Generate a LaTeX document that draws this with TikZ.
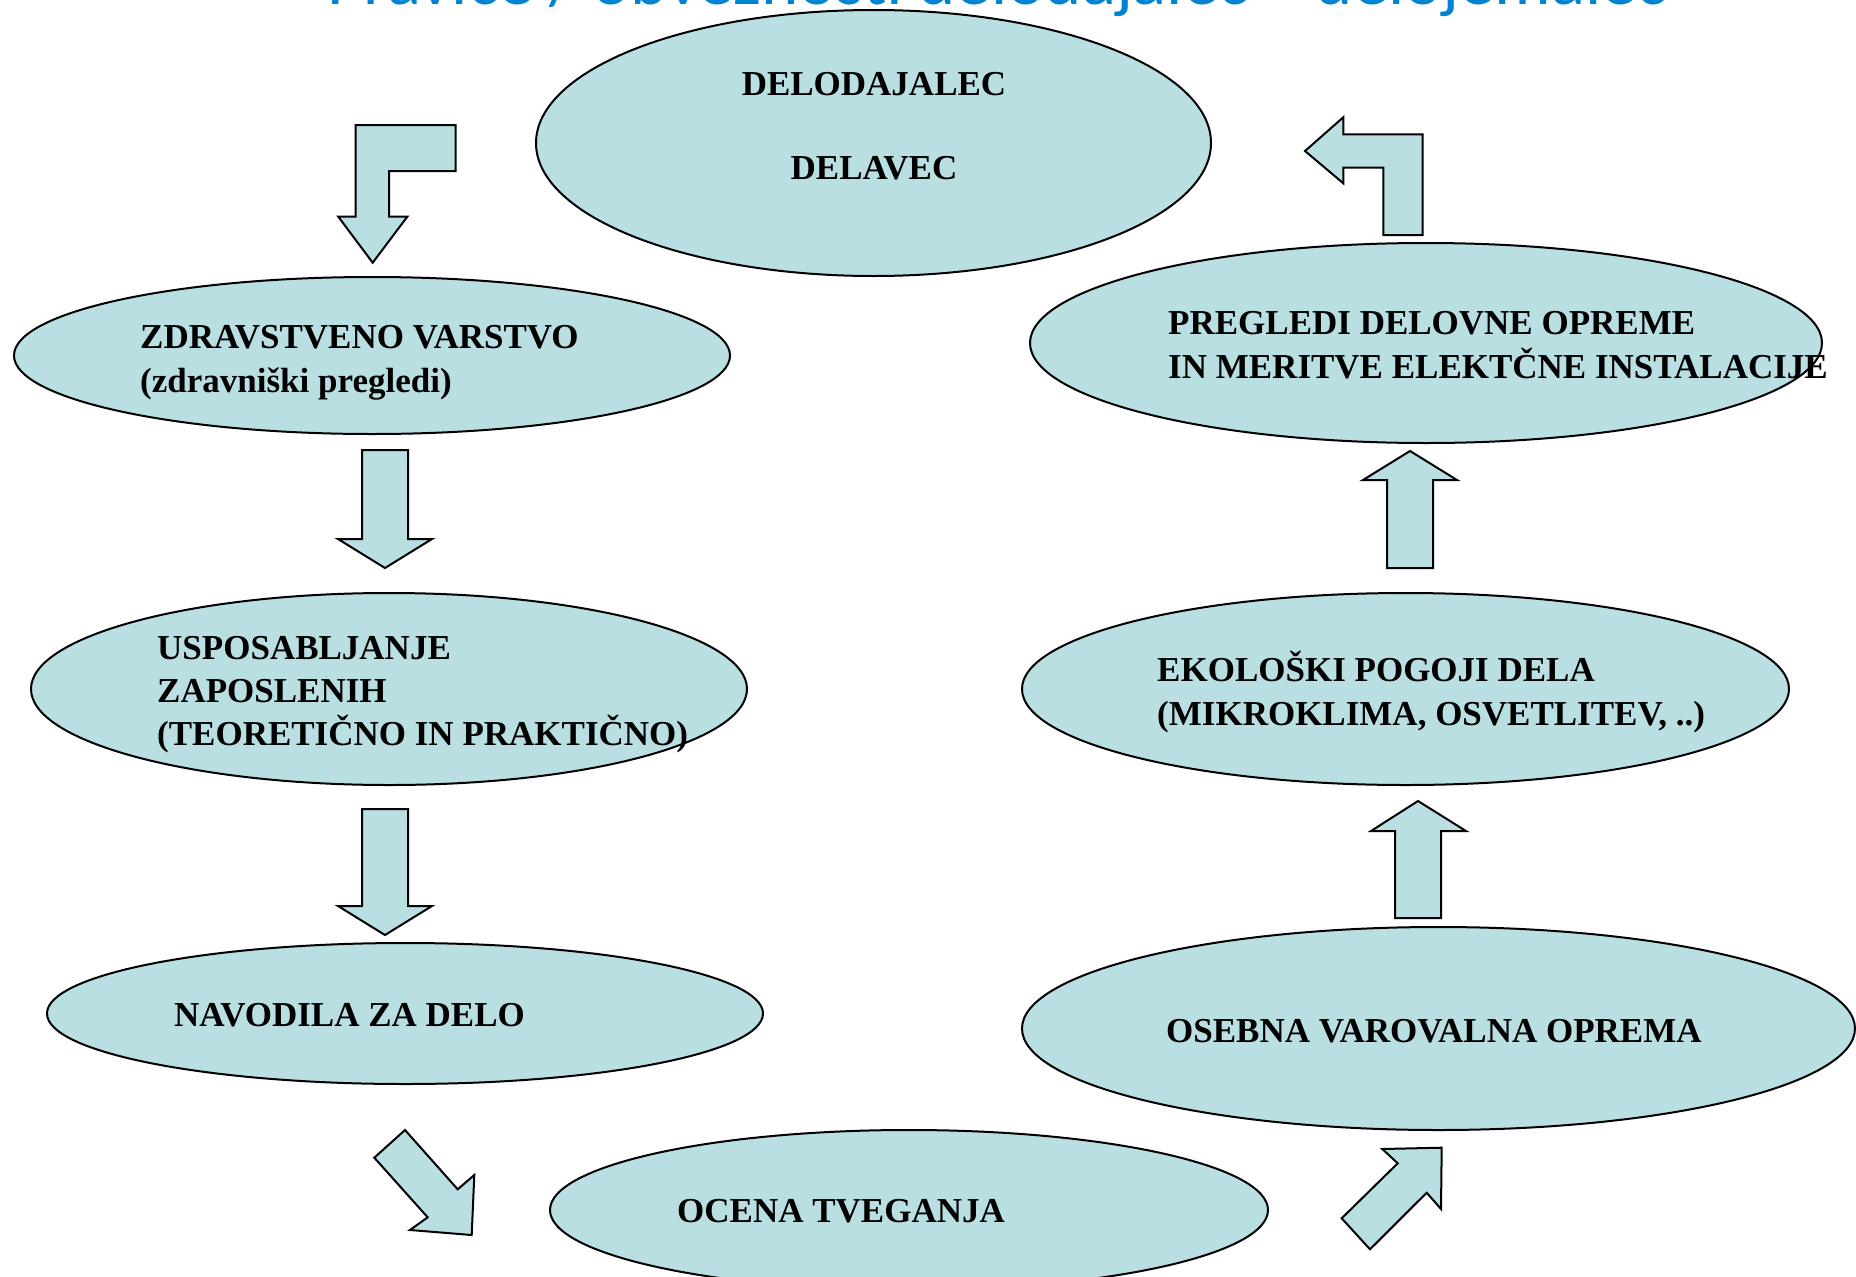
\documentclass[tikz,border=0pt]{standalone}
\usepackage{fontspec}
\setmainfont{Liberation Serif}
\newfontfamily\titlefont{Carlito}
\usetikzlibrary{shapes.geometric}
\definecolor{cfill}{RGB}{186,223,227}
\definecolor{titleblue}{RGB}{0,132,209}
\begin{document}
\begin{tikzpicture}[x=1pt,y=-1pt,
  ell/.style={ellipse, draw=black, line width=2pt, fill=cfill, inner sep=0pt},
  blockarrow/.style={draw=black, line width=2pt, fill=cfill, line join=miter},
  lbl/.style={anchor=base west, inner sep=0pt, font=\bfseries\fontsize{35}{43.5}\selectfont},
  clbl/.style={anchor=base, inner sep=0pt, font=\bfseries\fontsize{35}{43.5}\selectfont}]
\useasboundingbox (0,0) rectangle (1856,1277);
\clip (0,0) rectangle (1856,1277);
\fill[white] (0,0) rectangle (1856,1277);

% title (cut off by the top edge, as in the reference)
\node[anchor=base, inner sep=0pt, text=titleblue] (title) at (997,4)
  {\resizebox{1340pt}{!}{\titlefont\fontsize{70}{84}\selectfont Pravice / obveznosti delodajalec – delojemalec}};

% ellipses
\node[ell, minimum width=675pt, minimum height=266pt] (del) at (873.5,143) {};
\node[ell, minimum width=716pt, minimum height=157pt] (zdr) at (372,355.5) {};
\node[ell, minimum width=716pt, minimum height=192pt] (usp) at (389,689) {};
\node[ell, minimum width=716pt, minimum height=141pt] (nav) at (405,1013.5) {};
\node[ell, minimum width=718pt, minimum height=160pt] (oce) at (909,1210) {};
\node[ell, minimum width=833pt, minimum height=203pt] (ose) at (1438.5,1028.5) {};
\node[ell, minimum width=767pt, minimum height=192pt] (eko) at (1405.5,689) {};
\node[ell, minimum width=792pt, minimum height=200pt] (pre) at (1426,343) {};

% block arrows
\draw[blockarrow] (355.7,125) -- (455.7,125) -- (455.7,171) -- (389,171) -- (389,216.7)
  -- (407.3,216.7) -- (372.7,262.7) -- (338.3,216.7) -- (355.7,216.7) -- cycle;
\draw[blockarrow] (1305,151) -- (1343.3,117.3) -- (1343.3,134.3) -- (1422.7,134.3) -- (1422.7,235)
  -- (1383.3,235) -- (1383.3,167.7) -- (1343.3,167.7) -- (1343.3,183.3) -- cycle;
\draw[blockarrow] (362,450) -- (408,450) -- (408,539) -- (432,539) -- (385,568) -- (338,539) -- (362,539) -- cycle;
\draw[blockarrow] (362,809) -- (408,809) -- (408,906) -- (432,906) -- (385,935) -- (338,906) -- (362,906) -- cycle;
\draw[blockarrow] (1387,568) -- (1433,568) -- (1433,480) -- (1457,480) -- (1410,451) -- (1363,480) -- (1387,480) -- cycle;
\draw[blockarrow] (1395,918) -- (1441,918) -- (1441,831) -- (1466,831) -- (1418,801) -- (1371,831) -- (1395,831) -- cycle;
\draw[blockarrow] (374.3,1157.7) -- (405,1130) -- (457.7,1189.3) -- (474.3,1175) -- (471.7,1235)
  -- (410,1230) -- (427.7,1217.3) -- cycle;
\draw[blockarrow] (1341.7,1218.3) -- (1397.7,1163.3) -- (1382.3,1149) -- (1441.7,1147.7) -- (1441,1209)
  -- (1426.7,1192.7) -- (1370,1249.3) -- cycle;

% texts
\node[clbl] (t-del1) at (874,95) {DELODAJALEC};
\node[clbl] (t-del2) at (874,179) {DELAVEC};
\node[lbl] (t-zdr1) at (140,348) {ZDRAVSTVENO VARSTVO};
\node[lbl] (t-zdr2) at (140,392) {(zdravniški pregledi)};
\node[lbl] (t-usp1) at (157,659) {USPOSABLJANJE};
\node[lbl] (t-usp2) at (157,702) {ZAPOSLENIH};
\node[lbl] (t-usp3) at (157,745) {(TEORETIČNO IN PRAKTIČNO)};
\node[lbl] (t-nav) at (174,1026) {NAVODILA ZA DELO};
\node[lbl] (t-oce) at (677,1222) {OCENA TVEGANJA};
\node[lbl] (t-ose) at (1166,1042) {OSEBNA VAROVALNA OPREMA};
\node[lbl] (t-eko1) at (1157,681) {EKOLOŠKI POGOJI DELA};
\node[lbl] (t-eko2) at (1157,725) {(MIKROKLIMA, OSVETLITEV, ..)};
\node[lbl] (t-pre1) at (1168,334) {PREGLEDI DELOVNE OPREME};
\node[lbl] (t-pre2) at (1168,378) {IN MERITVE ELEKTČNE INSTALACIJE};
\end{tikzpicture}
\end{document}
